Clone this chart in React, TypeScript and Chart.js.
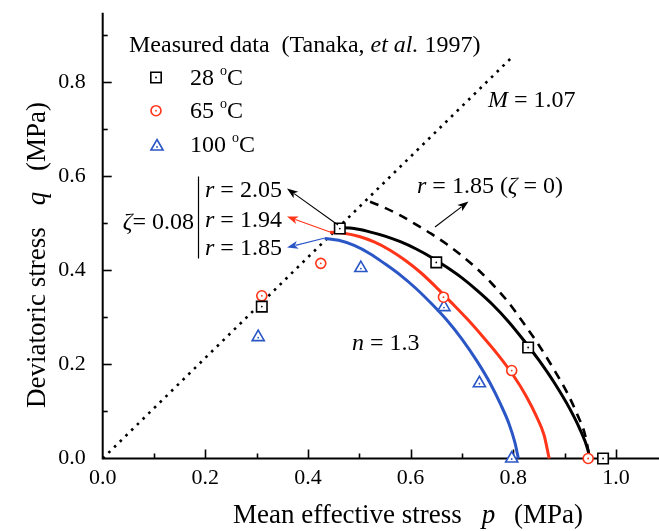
import React, { useEffect, useRef } from 'react';
import { Chart, registerables } from 'chart.js';

Chart.register(...registerables);

// Measured data (Tanaka et al. 1997): mean effective stress p and deviatoric stress q, MPa
const p28 = [0.310, 0.462, 0.650, 0.829, 0.975];
const q28 = [0.323, 0.489, 0.417, 0.236, 0.0];
const p65 = [0.310, 0.425, 0.664, 0.797, 0.946];
const q65 = [0.346, 0.415, 0.343, 0.187, 0.0];
const p100 = [0.303, 0.503, 0.665, 0.734, 0.797];
const q100 = [0.258, 0.405, 0.322, 0.160, 0.0];

// Model yield surfaces, zeta = 0.08
const r205P = [0.460, 0.490, 0.520, 0.550, 0.580, 0.610, 0.640, 0.670, 0.700, 0.730, 0.760, 0.790, 0.820, 0.850, 0.880, 0.910, 0.930, 0.945, 0.949];
const r205Q = [0.491, 0.489, 0.482, 0.473, 0.461, 0.446, 0.428, 0.407, 0.384, 0.357, 0.327, 0.292, 0.252, 0.209, 0.161, 0.106, 0.062, 0.020, 0.0];
const r194P = [0.443, 0.470, 0.500, 0.530, 0.560, 0.590, 0.620, 0.650, 0.680, 0.710, 0.740, 0.770, 0.800, 0.825, 0.845, 0.860, 0.870];
const r194Q = [0.481, 0.479, 0.472, 0.460, 0.443, 0.421, 0.395, 0.364, 0.331, 0.297, 0.260, 0.221, 0.177, 0.133, 0.090, 0.050, 0.0];
const r185P = [0.433, 0.460, 0.490, 0.520, 0.550, 0.580, 0.610, 0.640, 0.670, 0.700, 0.730, 0.755, 0.775, 0.792, 0.803, 0.810];
const r185Q = [0.468, 0.464, 0.453, 0.436, 0.414, 0.390, 0.362, 0.330, 0.295, 0.254, 0.206, 0.160, 0.116, 0.073, 0.035, 0.0];
// Yield surface r = 1.85, zeta = 0
const z0P = [0.521, 0.550, 0.580, 0.610, 0.640, 0.670, 0.700, 0.730, 0.760, 0.790, 0.820, 0.850, 0.880, 0.905, 0.925, 0.940, 0.949];
const z0Q = [0.546, 0.533, 0.517, 0.498, 0.478, 0.456, 0.431, 0.403, 0.370, 0.333, 0.288, 0.241, 0.188, 0.140, 0.093, 0.050, 0.0];
// Critical state line, M = 1.07
const cslP = [0, 0.80];
const cslQ = [0, 0.856];

const xMax = 1.084;
const yMax = 0.948;
const tickStep = 0.2;
const minorStep = 0.1;

const BLACK = '#000000';
const RED = '#ff3418';
const BLUE = '#2a56c6';
const SERIF = '"Liberation Serif", "Times New Roman", Times, serif';

const pts = (xs: number[], ys: number[]) => xs.map((x, i) => ({ x, y: ys[i] }));

type Seg = { t: string; i?: boolean; sup?: boolean; gap?: number };

function segFont(s: Seg, size: number) {
  const sz = s.sup ? Math.round(size * 0.6) : size;
  return `${s.i ? 'italic ' : ''}${sz}px ${SERIF}`;
}

function richWidth(ctx: CanvasRenderingContext2D, segs: Seg[], size: number) {
  let w = 0;
  for (const s of segs) {
    ctx.font = segFont(s, size);
    w += ctx.measureText(s.t).width + (s.gap || 0);
  }
  return w;
}

function drawRich(
  ctx: CanvasRenderingContext2D,
  segs: Seg[],
  x: number,
  y: number,
  size: number,
  color: string,
  align: 'left' | 'center' | 'right' = 'left'
) {
  const w = richWidth(ctx, segs, size);
  let cx = align === 'left' ? x : align === 'center' ? x - w / 2 : x - w;
  ctx.fillStyle = color;
  ctx.textAlign = 'left';
  ctx.textBaseline = 'alphabetic';
  for (const s of segs) {
    ctx.font = segFont(s, size);
    ctx.fillText(s.t, cx, s.sup ? y - size * 0.42 : y);
    cx += ctx.measureText(s.t).width + (s.gap || 0);
  }
}

function arrow(ctx: CanvasRenderingContext2D, x1: number, y1: number, x2: number, y2: number, color: string) {
  const a = Math.atan2(y2 - y1, x2 - x1);
  const len = 11;
  const hw = 4;
  ctx.strokeStyle = color;
  ctx.fillStyle = color;
  ctx.lineWidth = 1.1;
  ctx.beginPath();
  ctx.moveTo(x1, y1);
  ctx.lineTo(x2 - Math.cos(a) * len * 0.8, y2 - Math.sin(a) * len * 0.8);
  ctx.stroke();
  ctx.beginPath();
  ctx.moveTo(x2, y2);
  ctx.lineTo(x2 - Math.cos(a) * len - Math.sin(a) * hw, y2 - Math.sin(a) * len + Math.cos(a) * hw);
  ctx.lineTo(x2 - Math.cos(a) * len * 0.75, y2 - Math.sin(a) * len * 0.75);
  ctx.lineTo(x2 - Math.cos(a) * len + Math.sin(a) * hw, y2 - Math.sin(a) * len - Math.cos(a) * hw);
  ctx.closePath();
  ctx.fill();
}

function centerDot(ctx: CanvasRenderingContext2D, x: number, y: number, color: string) {
  ctx.fillStyle = color;
  ctx.beginPath();
  ctx.arc(x, y, 0.9, 0, Math.PI * 2);
  ctx.fill();
}

function marker(ctx: CanvasRenderingContext2D, kind: string, x: number, y: number, color: string) {
  ctx.strokeStyle = color;
  ctx.fillStyle = '#ffffff';
  ctx.lineWidth = 1.6;
  ctx.beginPath();
  if (kind === 'rect') {
    ctx.rect(x - 5.2, y - 5.2, 10.4, 10.4);
  } else if (kind === 'circle') {
    ctx.arc(x, y, 5, 0, Math.PI * 2);
  } else {
    const r = 7;
    ctx.moveTo(x, y - r);
    ctx.lineTo(x + r * Math.sin((2 * Math.PI) / 3), y - r * Math.cos((2 * Math.PI) / 3));
    ctx.lineTo(x + r * Math.sin((4 * Math.PI) / 3), y - r * Math.cos((4 * Math.PI) / 3));
    ctx.closePath();
  }
  ctx.fill();
  ctx.stroke();
  centerDot(ctx, x, kind === 'triangle' ? y + 0.5 : y, color);
}

// Axis lines with inward major and minor ticks
const axesPlugin = {
  id: 'inwardAxes',
  beforeDatasetsDraw(chart: any) {
    const { ctx, chartArea, scales } = chart;
    const xs = scales.x;
    const ys = scales.y;
    ctx.save();
    ctx.strokeStyle = BLACK;
    ctx.lineWidth = 2;
    ctx.beginPath();
    ctx.moveTo(chartArea.left, chartArea.top);
    ctx.lineTo(chartArea.left, chartArea.bottom);
    ctx.lineTo(chartArea.right, chartArea.bottom);
    ctx.stroke();
    ctx.lineWidth = 1.6;
    for (let k = 1; k * minorStep <= xMax + 1e-9; k++) {
      const v = k * minorStep;
      const px = Math.round(xs.getPixelForValue(v)) + 0.5;
      const len = k % 2 === 0 ? 9 : 5;
      ctx.beginPath();
      ctx.moveTo(px, chartArea.bottom);
      ctx.lineTo(px, chartArea.bottom - len);
      ctx.stroke();
    }
    for (let k = 1; k * minorStep <= yMax + 1e-9; k++) {
      const v = k * minorStep;
      const py = Math.round(ys.getPixelForValue(v)) + 0.5;
      const len = k % 2 === 0 ? 9 : 5;
      ctx.beginPath();
      ctx.moveTo(chartArea.left, py);
      ctx.lineTo(chartArea.left + len, py);
      ctx.stroke();
    }
    ctx.restore();
  },
};

// Text, legend, arrows and the small dot inside each data symbol
const notesPlugin = {
  id: 'notes',
  afterDatasetsDraw(chart: any) {
    const { ctx } = chart;
    ctx.save();

    chart.data.datasets.forEach((ds: any, i: number) => {
      if (ds.showLine !== false) return;
      const meta = chart.getDatasetMeta(i);
      meta.data.forEach((el: any) => {
        centerDot(ctx, el.x, ds.pointStyle === 'triangle' ? el.y + 0.5 : el.y, ds.pointBorderColor);
      });
    });

    // Legend
    drawRich(ctx, [{ t: 'Measured data', gap: 6 }, { t: ' (Tanaka, ' }, { t: 'et al.', i: true }, { t: ' 1997)' }], 129, 52, 24, BLACK);
    marker(ctx, 'rect', 156, 77.5, BLACK);
    marker(ctx, 'circle', 156, 110.7, RED);
    marker(ctx, 'triangle', 157, 146.5, BLUE);
    drawRich(ctx, [{ t: '28 ' }, { t: 'o', sup: true }, { t: 'C' }], 190, 85, 24, BLACK);
    drawRich(ctx, [{ t: '65 ' }, { t: 'o', sup: true }, { t: 'C' }], 190, 118, 24, BLACK);
    drawRich(ctx, [{ t: '100 ' }, { t: 'o', sup: true }, { t: 'C' }], 190, 152, 24, BLACK);

    // Critical state line label
    drawRich(ctx, [{ t: 'M', i: true }, { t: ' = 1.07' }], 488, 107, 24, BLACK);

    // zeta = 0.08 group
    drawRich(ctx, [{ t: 'ζ', i: true }, { t: '= 0.08' }], 194, 229, 24, BLACK, 'right');
    ctx.strokeStyle = BLACK;
    ctx.lineWidth = 1.2;
    ctx.beginPath();
    ctx.moveTo(198.5, 176.5);
    ctx.lineTo(198.5, 258.5);
    ctx.stroke();
    drawRich(ctx, [{ t: 'r', i: true }, { t: ' = 2.05' }], 205, 197, 24, BLACK);
    drawRich(ctx, [{ t: 'r', i: true }, { t: ' = 1.94' }], 205, 227, 24, BLACK);
    drawRich(ctx, [{ t: 'r', i: true }, { t: ' = 1.85' }], 205, 255, 24, BLACK);

    drawRich(ctx, [{ t: 'r', i: true }, { t: ' = 1.85 (' }, { t: 'ζ', i: true }, { t: ' = 0)' }], 417, 193, 24, BLACK);
    drawRich(ctx, [{ t: 'n', i: true }, { t: ' = 1.3' }], 352, 350, 24, BLACK);

    arrow(ctx, 338, 225, 287, 188.5, BLACK);
    arrow(ctx, 330, 232, 287, 216.5, RED);
    arrow(ctx, 325, 238, 287, 247.5, BLUE);
    arrow(ctx, 435, 227, 468.5, 201.5, BLACK);

    // Axis titles
    drawRich(ctx, [{ t: 'Mean effective stress', gap: 20 }, { t: 'p', i: true, gap: 12 }, { t: ' (MPa)' }], 408, 523, 27, BLACK, 'center');
    ctx.translate(45, 255);
    ctx.rotate(-Math.PI / 2);
    drawRich(ctx, [{ t: 'Deviatoric stress', gap: 22 }, { t: 'q', i: true, gap: 14 }, { t: ' (MPa)' }], 0, 0, 27, BLACK, 'center');
    ctx.restore();
  },
};

export default function App() {
  const canvasRef = useRef<HTMLCanvasElement | null>(null);

  useEffect(() => {
    const canvas = canvasRef.current;
    if (!canvas) return;

    const markerSet = (label: string, xs: number[], ys: number[], style: string, color: string, radius: number) => ({
      type: 'scatter' as const,
      label,
      data: pts(xs, ys),
      showLine: false,
      pointStyle: style,
      pointRadius: radius,
      pointBorderWidth: 1.6,
      pointBorderColor: color,
      pointBackgroundColor: '#ffffff',
      clip: false,
    });

    const curve = (label: string, xs: number[], ys: number[], color: string, width: number, dash: number[] = []) => ({
      type: 'line' as const,
      label,
      data: pts(xs, ys),
      borderColor: color,
      borderWidth: width,
      borderDash: dash,
      pointRadius: 0,
      fill: false,
      cubicInterpolationMode: 'monotone',
      clip: false,
    });

    const noScalePadding = (s: any) => {
      s.paddingTop = 0;
      s.paddingBottom = 0;
      s.paddingLeft = 0;
      s.paddingRight = 0;
    };

    const chart = new Chart(canvas, {
      type: 'line',
      data: {
        datasets: [
          markerSet('28 °C', p28, q28, 'rect', BLACK, 7.4),
          markerSet('65 °C', p65, q65, 'circle', RED, 5),
          markerSet('100 °C', p100, q100, 'triangle', BLUE, 7),
          curve('r = 2.05', r205P, r205Q, BLACK, 3),
          curve('r = 1.94', r194P, r194Q, RED, 3),
          curve('r = 1.85', r185P, r185Q, BLUE, 3),
          curve('r = 1.85 (ζ = 0)', z0P, z0Q, BLACK, 2.6, [9, 7]),
          { ...curve('M = 1.07', cslP, cslQ, BLACK, 2.6, [2.6, 5.4]), cubicInterpolationMode: 'default', tension: 0 },
        ] as any,
      },
      options: {
        responsive: false,
        animation: false,
        layout: { autoPadding: false, padding: { top: 12.7, right: 0, bottom: 0, left: 0 } },
        plugins: { legend: { display: false }, tooltip: { enabled: false } },
        font: { family: SERIF },
        scales: {
          x: {
            type: 'linear',
            min: 0,
            max: xMax,
            grid: { display: false },
            border: { display: false },
            ticks: {
              stepSize: tickStep,
              includeBounds: false,
              color: BLACK,
              padding: -1,
              font: { family: SERIF, size: 22 },
              callback: (v: any) => Number(v).toFixed(1),
            },
            afterFit: (s: any) => {
              s.height = 72.5;
              noScalePadding(s);
            },
          },
          y: {
            type: 'linear',
            min: 0,
            max: yMax,
            grid: { display: false },
            border: { display: false },
            ticks: {
              stepSize: tickStep,
              includeBounds: false,
              color: BLACK,
              padding: 9,
              font: { family: SERIF, size: 22 },
              callback: (v: any) => Number(v).toFixed(1),
            },
            afterFit: (s: any) => {
              s.width = 102.7;
              noScalePadding(s);
            },
          },
        },
      } as any,
      plugins: [axesPlugin, notesPlugin],
    });

    // Redraw once the serif face is ready
    if (document.fonts && document.fonts.load) {
      Promise.all([
        document.fonts.load(`22px ${SERIF}`),
        document.fonts.load(`italic 24px ${SERIF}`),
      ])
        .then(() => chart.update())
        .catch(() => {});
    }

    return () => chart.destroy();
  }, []);

  return (
    <div style={{ position: 'absolute', left: 0, top: 0, width: 659, height: 531, background: '#ffffff' }}>
      <canvas ref={canvasRef} width={659} height={531} style={{ display: 'block' }} />
    </div>
  );
}
